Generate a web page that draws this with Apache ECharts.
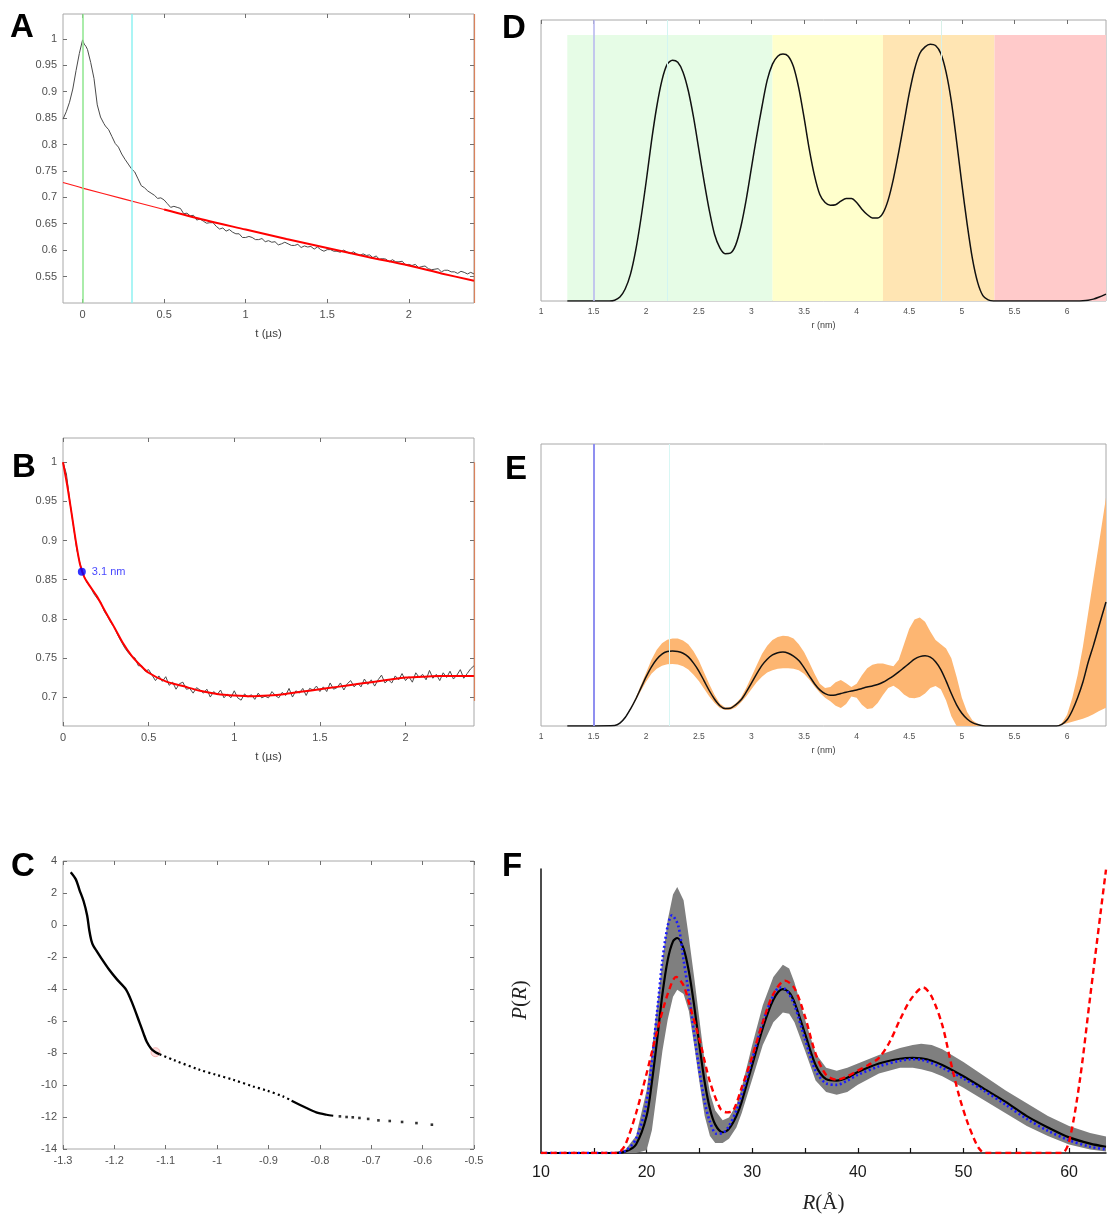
<!DOCTYPE html>
<html><head><meta charset="utf-8">
<script src="https://cdn.jsdelivr.net/npm/echarts@6/dist/echarts.min.js"></script>
<style>html,body{margin:0;padding:0;background:#fff}#c{width:1111px;height:1220px}</style>
</head><body><div id="c"></div>
<script>
// ---------- DATA ----------
// Panel A: raw trace (t in µs, normalised signal) and background fit
const aSignal = [
[-0.12,0.848],[-0.1,0.862],[-0.08,0.88],[-0.06,0.905],[-0.04,0.94],[-0.02,0.972],[0,0.998],[0.01,0.99],[0.02,0.986],[0.03,0.98],
[0.05,0.955],[0.07,0.925],[0.09,0.875],[0.11,0.852],[0.13,0.84],[0.14,0.835],[0.15,0.838],[0.16,0.828],[0.18,0.815],[0.2,0.802],
[0.22,0.795],[0.24,0.782],[0.26,0.772],[0.28,0.763],[0.3,0.754],[0.32,0.748],[0.34,0.735],[0.36,0.722],[0.38,0.718],[0.4,0.712],
[0.42,0.708],[0.44,0.704],[0.46,0.698],[0.48,0.699],
[0.50,0.695],[0.52,0.688],[0.54,0.681],[0.56,0.683],[0.58,0.681],[0.60,0.679],[0.62,0.669],[0.64,0.670],[0.66,0.665],[0.68,0.666],
[0.70,0.657],[0.72,0.659],[0.74,0.655],[0.76,0.651],[0.78,0.652],[0.80,0.652],[0.82,0.645],[0.84,0.640],[0.86,0.642],[0.88,0.636],
[0.90,0.639],[0.92,0.634],[0.94,0.631],[0.96,0.631],[0.98,0.624],[1.00,0.624],[1.02,0.626],[1.04,0.624],[1.06,0.620],[1.08,0.620],
[1.10,0.622],[1.12,0.616],[1.14,0.618],[1.16,0.615],[1.18,0.616],[1.20,0.610],[1.22,0.612],[1.24,0.615],[1.26,0.612],[1.28,0.609],
[1.30,0.609],[1.32,0.611],[1.34,0.605],[1.36,0.608],[1.38,0.606],[1.40,0.607],[1.42,0.602],[1.44,0.606],[1.46,0.601],[1.48,0.598],
[1.50,0.601],[1.52,0.601],[1.54,0.598],[1.56,0.598],[1.58,0.596],[1.60,0.600],[1.62,0.597],[1.64,0.593],[1.66,0.597],[1.68,0.593],
[1.70,0.590],[1.72,0.593],[1.74,0.590],[1.76,0.591],[1.78,0.586],[1.80,0.589],[1.82,0.583],[1.84,0.584],[1.86,0.583],[1.88,0.578],
[1.90,0.582],[1.92,0.578],[1.94,0.578],[1.96,0.579],[1.98,0.572],[2.00,0.573],[2.02,0.571],[2.04,0.573],[2.06,0.567],[2.08,0.569],
[2.10,0.570],[2.12,0.565],[2.14,0.563],[2.16,0.564],[2.18,0.565],[2.20,0.559],[2.22,0.562],[2.24,0.562],[2.26,0.559],[2.28,0.559],
[2.30,0.556],[2.32,0.560],[2.34,0.558],[2.36,0.555],[2.38,0.558],[2.40,0.555]];
const aFitOutside = [[-0.12,0.728],[0,0.7175],[0.25,0.697],[0.5,0.677]];
const aFitInside = [[0.5,0.677],[0.75,0.657],[1,0.639],[1.25,0.621],[1.5,0.604],[1.75,0.587],[2,0.571],[2.2,0.556],[2.4,0.542]];
const aMarkerTimes = [0, 0.3, 2.4];
const aXTicks = [0, 0.5, 1, 1.5, 2];
const aYTicks = [0.55, 0.6, 0.65, 0.7, 0.75, 0.8, 0.85, 0.9, 0.95, 1];

// Panel B: background-corrected trace and fit
const bSignal = [
[0,1.0],[0.02,0.985],[0.04,0.95],[0.06,0.92],[0.08,0.889],[0.1,0.87],[0.12,0.856],[0.14,0.846],[0.16,0.841],[0.18,0.832],
[0.2,0.826],[0.22,0.821],[0.24,0.810],[0.26,0.803],[0.28,0.795],[0.3,0.789],[0.32,0.779],[0.34,0.771],[0.36,0.763],[0.38,0.757],
[0.40,0.752],[0.42,0.750],[0.44,0.740],[0.46,0.740],[0.48,0.733],[0.50,0.735],[0.52,0.728],[0.54,0.721],[0.56,0.727],[0.58,0.720],
[0.60,0.726],[0.62,0.715],[0.64,0.719],[0.66,0.710],[0.68,0.717],[0.70,0.719],[0.72,0.710],[0.74,0.711],[0.76,0.705],[0.78,0.712],
[0.80,0.709],[0.82,0.705],[0.84,0.710],[0.86,0.700],[0.88,0.707],[0.90,0.703],[0.92,0.709],[0.94,0.699],[0.96,0.704],[0.98,0.699],
[1.00,0.708],[1.02,0.699],[1.04,0.696],[1.06,0.704],[1.08,0.700],[1.10,0.703],[1.12,0.697],[1.14,0.705],[1.16,0.699],[1.18,0.701],
[1.20,0.699],[1.22,0.707],[1.24,0.702],[1.26,0.699],[1.28,0.706],[1.30,0.702],[1.32,0.711],[1.34,0.700],[1.36,0.708],[1.38,0.705],
[1.40,0.711],[1.42,0.702],[1.44,0.711],[1.46,0.709],[1.48,0.714],[1.50,0.707],[1.52,0.713],[1.54,0.707],[1.56,0.718],[1.58,0.710],
[1.60,0.712],[1.62,0.718],[1.64,0.709],[1.66,0.717],[1.68,0.721],[1.70,0.713],[1.72,0.718],[1.74,0.713],[1.76,0.723],[1.78,0.716],
[1.80,0.722],[1.82,0.714],[1.84,0.722],[1.86,0.728],[1.88,0.718],[1.90,0.722],[1.92,0.718],[1.94,0.727],[1.96,0.722],[1.98,0.730],
[2.00,0.721],[2.02,0.726],[2.04,0.719],[2.06,0.731],[2.08,0.725],[2.10,0.729],[2.12,0.722],[2.14,0.734],[2.16,0.724],[2.18,0.729],
[2.20,0.721],[2.22,0.731],[2.24,0.725],[2.26,0.733],[2.28,0.723],[2.30,0.728],[2.32,0.735],[2.34,0.724],[2.36,0.730],[2.38,0.736],[2.40,0.740]];
const bFit = [[0,1.0],[0.025,0.97],[0.05,0.935],[0.075,0.899],[0.1,0.869],[0.125,0.853],[0.15,0.844],[0.2,0.828],[0.25,0.808],[0.3,0.789],
[0.35,0.769],[0.4,0.753],[0.45,0.741],[0.5,0.731],[0.6,0.72],[0.7,0.714],[0.8,0.708],[0.9,0.704],[1.0,0.702],[1.1,0.701],
[1.2,0.702],[1.3,0.704],[1.4,0.707],[1.5,0.710],[1.6,0.713],[1.7,0.716],[1.8,0.719],[1.9,0.722],[2.0,0.725],[2.1,0.726],
[2.2,0.727],[2.3,0.727],[2.4,0.727]];
const bMarker = [0.11, 0.86];
const bMarkerLabel = '3.1 nm';
const bEdge = [[2.4, 0.695], [2.4, 1.0]];
const bXTicks = [0, 0.5, 1, 1.5, 2];
const bYTicks = [0.7, 0.75, 0.8, 0.85, 0.9, 0.95, 1];

// Panel C
const cCurve = [[-1.285,3.3],[-1.275,2.85],[-1.268,2.2],[-1.26,1.5],[-1.253,0.6],[-1.249,-0.3],[-1.245,-0.95],[-1.241,-1.3],
[-1.235,-1.6],[-1.225,-2.1],[-1.21,-2.8],[-1.195,-3.4],[-1.177,-4.05],[-1.165,-4.9],[-1.151,-6.1],[-1.143,-6.8],[-1.137,-7.3],
[-1.128,-7.75],[-1.12,-7.95],[-1.112,-8.08]];
const cDotted = [[-1.112,-8.08],[-1.086,-8.42],[-1.034,-9.05],[-1.002,-9.36],[-0.969,-9.67],[-0.93,-10.09],[-0.904,-10.34],
[-0.872,-10.71],[-0.855,-10.98]];
const cDense = [[-0.855,-10.98],[-0.826,-11.44],[-0.807,-11.71],[-0.787,-11.86],[-0.774,-11.92]];
const cTail = [[-0.761,-11.96],[-0.748,-12.0],[-0.736,-12.02],[-0.723,-12.06],[-0.706,-12.12],[-0.686,-12.21],[-0.664,-12.25],
[-0.640,-12.31],[-0.612,-12.38],[-0.582,-12.48]];
const cSelected = [-1.12, -7.95];
const cXTicks = [-1.3, -1.2, -1.1, -1, -0.9, -0.8, -0.7, -0.6, -0.5];
const cYTicks = [-14, -12, -10, -8, -6, -4, -2, 0, 2, 4];

// Panel D: distance distribution with reliability bands
const dR = [1.25,1.5,1.65,1.7,1.75,1.8,1.85,1.9,1.95,2.0,2.05,2.1,2.15,2.2,2.25,2.3,2.35,2.4,2.45,2.5,2.55,2.6,2.65,2.7,2.75,
2.8,2.85,2.9,2.95,3.0,3.05,3.1,3.15,3.2,3.25,3.3,3.35,3.4,3.45,3.5,3.55,3.6,3.65,3.7,3.75,3.8,3.85,3.9,3.95,4.0,4.05,4.1,4.15,4.2,
4.25,4.3,4.35,4.4,4.45,4.5,4.55,4.6,4.65,4.7,4.75,4.8,4.85,4.9,4.95,5.0,5.05,5.1,5.15,5.2,5.25,5.3,6.1,6.15,6.2,6.25,6.3,6.37];
const dP = [0,0,0,0.003,0.015,0.045,0.10,0.19,0.31,0.45,0.60,0.73,0.83,0.89,0.905,0.897,0.86,0.79,0.69,0.57,0.45,0.34,0.25,0.20,0.178,
0.18,0.21,0.28,0.38,0.50,0.62,0.73,0.83,0.89,0.92,0.928,0.92,0.88,0.80,0.69,0.57,0.47,0.40,0.37,0.36,0.362,0.375,0.385,0.385,0.37,0.345,0.325,0.312,0.312,
0.33,0.38,0.46,0.56,0.67,0.78,0.87,0.93,0.955,0.965,0.96,0.93,0.86,0.75,0.60,0.44,0.29,0.16,0.07,0.02,0.004,0,0,0.001,0.003,0.007,0.014,0.026];
const dBandEdges = [1.25, 3.2, 4.25, 5.31, 6.37];
const dLines = [1.5, 2.2, 4.8];
const rTicks = [1,1.5,2,2.5,3,3.5,4,4.5,5,5.5,6];

// Panel E: distribution with uncertainty band
const eR = [1.25,1.7,1.75,1.8,1.85,1.9,1.95,2.0,2.05,2.1,2.15,2.2,2.25,2.3,2.35,2.4,2.45,2.5,2.55,2.6,2.65,2.7,2.75,2.8,2.85,2.9,2.95,3.0,3.05,
3.1,3.15,3.2,3.25,3.3,3.35,3.4,3.45,3.5,3.55,3.6,3.65,3.7,3.75,3.8,3.85,3.9,3.95,4.0,4.05,4.1,4.15,4.2,4.25,4.3,4.35,4.4,4.45,4.5,4.55,4.6,4.65,4.7,4.75,4.8,4.85,4.9,4.95,
5.0,5.05,5.1,5.15,5.2,5.25,5.9,5.95,6.0,6.05,6.1,6.15,6.2,6.25,6.3,6.37];
const eMean = [0,0.002,0.01,0.03,0.06,0.095,0.135,0.175,0.21,0.237,0.255,0.264,0.266,0.264,0.258,0.245,0.223,0.195,0.16,0.125,0.095,0.072,0.062,0.063,0.075,0.092,0.12,0.152,0.185,
0.215,0.237,0.252,0.26,0.262,0.258,0.248,0.232,0.207,0.178,0.15,0.128,0.115,0.109,0.11,0.115,0.12,0.124,0.128,0.133,0.138,0.142,0.147,0.155,0.166,0.178,0.192,0.207,0.222,0.237,0.246,0.249,0.244,0.228,0.2,0.16,0.115,0.075,
0.045,0.025,0.012,0.005,0.001,0,0,0.006,0.022,0.055,0.10,0.155,0.225,0.285,0.35,0.44];
const eLow = [0,0.002,0.01,0.03,0.058,0.09,0.125,0.158,0.185,0.203,0.214,0.219,0.22,0.218,0.212,0.2,0.182,0.16,0.132,0.105,0.082,0.064,0.057,0.058,0.066,0.083,0.105,0.13,0.155,
0.175,0.19,0.198,0.203,0.205,0.205,0.203,0.198,0.185,0.165,0.14,0.118,0.1,0.088,0.072,0.064,0.078,0.105,0.1,0.075,0.06,0.063,0.082,0.11,0.135,0.143,0.13,0.112,0.1,0.098,0.103,0.115,0.135,0.142,0.13,0.09,0.035,0,
0,0,0,0,0,0,0,0.004,0.01,0.015,0.02,0.026,0.033,0.042,0.052,0.065];
const eUp = [0,0.002,0.01,0.03,0.062,0.10,0.145,0.19,0.235,0.27,0.293,0.306,0.31,0.31,0.303,0.29,0.265,0.232,0.19,0.148,0.11,0.08,0.066,0.067,0.08,0.10,0.135,0.175,0.215,
0.255,0.285,0.305,0.316,0.32,0.318,0.31,0.29,0.262,0.225,0.185,0.15,0.135,0.138,0.155,0.163,0.152,0.138,0.15,0.18,0.205,0.217,0.222,0.222,0.216,0.212,0.235,0.29,0.345,0.378,0.385,0.37,0.335,0.305,0.29,0.275,0.24,0.175,
0.1,0.05,0.02,0.008,0.002,0,0,0.01,0.04,0.10,0.18,0.28,0.40,0.52,0.64,0.81];
const eLines = [1.5, 2.22];

// Panel F: P(R) comparison
const fR = [10,17,18,19,20,20.5,21,21.5,22,22.5,22.9,23.5,24,24.5,25,25.5,26,26.5,27.2,27.8,28.5,29,30,31,32,32.9,33.5,34,35,36,37,38,39,40,
42,44,45.2,46,47,48,50,52,54,56,58,60,62,63.5];
const fMean = [0,0,0.005,0.03,0.13,0.25,0.40,0.56,0.68,0.745,0.757,0.72,0.64,0.52,0.38,0.25,0.155,0.10,0.073,0.085,0.13,0.18,0.31,0.44,0.54,0.577,0.565,0.53,0.42,0.31,0.26,0.255,0.265,0.285,
0.315,0.332,0.335,0.333,0.325,0.31,0.27,0.225,0.18,0.13,0.09,0.055,0.033,0.022];
const fUp = [0,0.003,0.012,0.06,0.22,0.36,0.52,0.68,0.82,0.91,0.937,0.89,0.76,0.62,0.47,0.32,0.21,0.15,0.115,0.125,0.17,0.23,0.38,0.52,0.62,0.663,0.65,0.60,0.47,0.35,0.30,0.29,0.30,0.315,
0.345,0.37,0.38,0.385,0.38,0.365,0.32,0.27,0.22,0.175,0.13,0.095,0.07,0.058];
const fLow = [0,0,0,0,0.01,0.08,0.22,0.36,0.47,0.55,0.575,0.56,0.50,0.38,0.25,0.13,0.06,0.035,0.035,0.05,0.09,0.14,0.26,0.38,0.46,0.495,0.49,0.46,0.36,0.255,0.215,0.205,0.215,0.24,
0.28,0.30,0.30,0.295,0.285,0.27,0.23,0.185,0.14,0.095,0.06,0.03,0.012,0.005];
const fBlueR = [10,17,18,19,20,21,21.5,22,22.4,23,23.5,24,24.5,25,25.5,26,26.6,27.2,27.8,28.5,29,30,31,32,32.6,33.2,34,35,36,37,38,39,40,42,44,45,46,48,50,52,54,56,58,60,62,63.5];
const fBlue = [0,0,0.008,0.05,0.18,0.50,0.68,0.80,0.837,0.80,0.68,0.56,0.42,0.29,0.18,0.11,0.068,0.07,0.095,0.15,0.205,0.33,0.46,0.555,0.583,0.575,0.52,0.40,0.29,0.245,0.24,0.255,0.275,0.305,0.325,0.33,0.328,0.30,0.262,0.218,0.17,0.12,0.078,0.045,0.022,0.013];
const fRedR = [10,17,17.5,18,19,20,21,22,22.8,23.5,24,25,26,27,27.6,28.2,29,30,31,32,33.1,34,35,36,37,38,39,40,41,42,43,44,45,46.2,47,48,48.8,49.6,50.3,51,51.5,52,59.3,60,61,62,63,63.5];
const fRed = [0,0,0.005,0.03,0.14,0.28,0.43,0.56,0.62,0.59,0.53,0.40,0.25,0.155,0.143,0.15,0.23,0.34,0.46,0.56,0.607,0.58,0.48,0.35,0.275,0.258,0.27,0.29,0.31,0.335,0.39,0.47,0.54,0.583,0.55,0.45,0.32,0.2,0.117,0.05,0.015,0,0,0.04,0.25,0.55,0.85,0.998];
const fXLabels = [10,20,30,40,50,60];
const fXTicks = [15,20,25,30,35,40,45,50,55,60];

// ---------- CHART ----------
const zip = (x, y) => x.map((v, i) => [v, y[i]]);
const FONT = '"Liberation Sans", Arial, sans-serif';
const frame = '#a8a8a8';

function gridBox(left, top, width, height, show) {
  return {left, top, width, height, show: show, borderColor: frame, borderWidth: 1, backgroundColor: 'transparent', containLabel: false};
}
function ax(gridIndex, position, min, max, ticks, labels, fs, extra) {
  const o = {
    type: 'value', gridIndex, position, min, max,
    axisLine: {show: false, onZero: false},
    axisTick: {show: !!ticks, inside: true, length: 4, lineStyle: {color: '#6f6f6f'}, customValues: ticks || []},
    axisLabel: {show: !!labels, customValues: labels || [], color: '#505050', fontSize: fs || 11, fontFamily: FONT, margin: 6},
    splitLine: {show: false}
  };
  return Object.assign(o, extra || {});
}
function band(xi, yi, xs, lo, hi, color) {
  return {
    type: 'custom', xAxisIndex: xi, yAxisIndex: yi, clip: true, silent: true, z: 1,
    data: [[xs[0], 0]],
    renderItem: function (params, api) {
      const pts = [];
      for (let i = 0; i < xs.length; i++) pts.push(api.coord([xs[i], hi[i]]));
      for (let i = xs.length - 1; i >= 0; i--) pts.push(api.coord([xs[i], lo[i]]));
      return {type: 'polygon', shape: {points: pts}, style: {fill: color}};
    }
  };
}
function vline(x, color, width) {
  return {xAxis: x, lineStyle: {color: color, width: width, type: 'solid'}};
}
const noMark = {symbol: 'none', silent: true, label: {show: false}, emphasis: {disabled: true}};
const SM = {smooth: 0.3};

const tUs = 't (\u00b5s)';
const option = {
  animation: false,
  backgroundColor: '#fff',
  grid: [
    gridBox(63, 14, 411, 289, true),
    gridBox(63, 438, 411, 288, true),
    gridBox(63, 861, 411, 288, true),
    gridBox(541, 20, 565, 281, true),
    gridBox(541, 444, 565, 282, true),
    gridBox(541, 869, 565, 284, false)
  ],
  xAxis: [
    ax(0, 'bottom', -0.12, 2.4, aXTicks, aXTicks, 11, {name: tUs, nameLocation: 'middle', nameGap: 25, nameTextStyle: {color: '#404040', fontSize: 11.5, fontFamily: FONT}}),
    ax(0, 'top', -0.12, 2.4, aXTicks, null),
    ax(1, 'bottom', 0, 2.4, bXTicks, bXTicks, 11, {name: tUs, nameLocation: 'middle', nameGap: 25, nameTextStyle: {color: '#404040', fontSize: 11.5, fontFamily: FONT}}),
    ax(1, 'top', 0, 2.4, bXTicks, null),
    ax(2, 'bottom', -1.3, -0.5, cXTicks, cXTicks, 11),
    ax(2, 'top', -1.3, -0.5, cXTicks, null),
    ax(3, 'bottom', 1, 6.37, null, rTicks, 8.5, {name: 'r (nm)', nameLocation: 'middle', nameGap: 20, nameTextStyle: {color: '#404040', fontSize: 9, fontFamily: FONT}}),
    ax(3, 'top', 1, 6.37, rTicks, null),
    ax(4, 'bottom', 1, 6.37, null, rTicks, 8.5, {name: 'r (nm)', nameLocation: 'middle', nameGap: 20, nameTextStyle: {color: '#404040', fontSize: 9, fontFamily: FONT}}),
    {
      type: 'value', gridIndex: 5, position: 'bottom', min: 10, max: 63.5,
      axisLine: {show: true, onZero: false, lineStyle: {color: '#111', width: 1.5}},
      axisTick: {show: true, inside: true, length: 5, lineStyle: {color: '#111', width: 1.2}, customValues: fXTicks},
      axisLabel: {show: true, customValues: fXLabels, color: '#1a1a1a', fontSize: 16, fontFamily: FONT, margin: 12},
      splitLine: {show: false},
      name: '{i|R}(\u00c5)', nameLocation: 'middle', nameGap: 40,
      nameTextStyle: {fontFamily: '"Liberation Serif", "Times New Roman", serif', fontSize: 21, color: '#222',
        rich: {i: {fontStyle: 'italic', fontFamily: '"Liberation Serif", serif', fontSize: 21, color: '#222'}}}
    }
  ],
  yAxis: [
    ax(0, 'left', 0.5, 1.047, aYTicks, aYTicks, 11),
    ax(0, 'right', 0.5, 1.047, aYTicks, null),
    ax(1, 'left', 0.663, 1.031, bYTicks, bYTicks, 11),
    ax(1, 'right', 0.663, 1.031, bYTicks, null),
    ax(2, 'left', -14, 4, cYTicks, cYTicks, 11),
    ax(2, 'right', -14, 4, cYTicks, null),
    ax(3, 'left', 0, 1.056, null, null),
    ax(4, 'left', 0, 1, null, null),
    {
      type: 'value', gridIndex: 5, position: 'left', min: 0, max: 1,
      axisLine: {show: true, onZero: false, lineStyle: {color: '#111', width: 1.5}},
      axisTick: {show: false}, axisLabel: {show: false}, splitLine: {show: false},
      name: '{i|P}({i|R})', nameLocation: 'middle', nameGap: 10, nameRotate: 90,
      nameTextStyle: {fontFamily: '"Liberation Serif", serif', fontSize: 21, color: '#222', padding: [0, 0, 0, 22],
        rich: {i: {fontStyle: 'italic', fontFamily: '"Liberation Serif", serif', fontSize: 21, color: '#222'}}}
    }
  ],
  graphic: [
    {type: 'text', style: {x: 10, y: 28, text: 'A', font: 'bold 33px ' + FONT, fill: '#000', verticalAlign: 'middle'}},
    {type: 'text', style: {x: 12, y: 468, text: 'B', font: 'bold 33px ' + FONT, fill: '#000', verticalAlign: 'middle'}},
    {type: 'text', style: {x: 11, y: 867, text: 'C', font: 'bold 33px ' + FONT, fill: '#000', verticalAlign: 'middle'}},
    {type: 'text', style: {x: 502, y: 29, text: 'D', font: 'bold 33px ' + FONT, fill: '#000', verticalAlign: 'middle'}},
    {type: 'text', style: {x: 505, y: 470, text: 'E', font: 'bold 33px ' + FONT, fill: '#000', verticalAlign: 'middle'}},
    {type: 'text', style: {x: 502, y: 867, text: 'F', font: 'bold 33px ' + FONT, fill: '#000', verticalAlign: 'middle'}}
  ],
  series: [
    // ---- A ----
    {type: 'line', xAxisIndex: 0, yAxisIndex: 0, data: aSignal, symbol: 'none', lineStyle: {color: '#4a4a4a', width: 1}, z: 3,
      markLine: Object.assign({}, noMark, {data: [vline(aMarkerTimes[0], '#8ee68e', 1.5), vline(aMarkerTimes[1], '#8ff2f2', 1.5), vline(aMarkerTimes[2], '#d9825c', 1.2)]})},
    Object.assign({type: 'line', xAxisIndex: 0, yAxisIndex: 0, data: aFitOutside, symbol: 'none', lineStyle: {color: '#ff1a1a', width: 1.2}, z: 4}, SM),
    Object.assign({type: 'line', xAxisIndex: 0, yAxisIndex: 0, data: aFitInside, symbol: 'none', lineStyle: {color: '#ff0000', width: 2}, z: 4}, SM),
    // ---- B ----
    {type: 'line', xAxisIndex: 2, yAxisIndex: 2, data: bSignal, symbol: 'none', lineStyle: {color: '#4a4a4a', width: 1}, z: 3,
      markLine: Object.assign({}, noMark, {data: [[{coord: bEdge[0], lineStyle: {color: '#d9825c', width: 1.2, type: 'solid'}}, {coord: bEdge[1]}]]})},
    Object.assign({type: 'line', xAxisIndex: 2, yAxisIndex: 2, data: bFit, symbol: 'none', lineStyle: {color: '#ff0000', width: 2}, z: 4}, SM),
    {type: 'scatter', xAxisIndex: 2, yAxisIndex: 2, data: [bMarker], symbol: 'circle', symbolSize: 8, itemStyle: {color: '#0000ff'}, z: 5,
      label: {show: true, position: 'right', distance: 6, formatter: bMarkerLabel, color: '#1515ff', fontSize: 11, fontFamily: FONT}},
    // ---- C ----
    Object.assign({type: 'line', xAxisIndex: 4, yAxisIndex: 4, data: cCurve, symbol: 'none', lineStyle: {color: '#000', width: 2.4}, z: 3}, SM),
    Object.assign({type: 'line', xAxisIndex: 4, yAxisIndex: 4, data: cDotted, symbol: 'none', lineStyle: {color: '#000', width: 2.2, type: [2, 3.2]}, z: 3}, SM),
    Object.assign({type: 'line', xAxisIndex: 4, yAxisIndex: 4, data: cDense, symbol: 'none', lineStyle: {color: '#000', width: 2.2}, z: 3}, SM),
    {type: 'scatter', xAxisIndex: 4, yAxisIndex: 4, data: cTail, symbol: 'rect', symbolSize: 2.6, itemStyle: {color: '#000'}, z: 3},
    {type: 'scatter', xAxisIndex: 4, yAxisIndex: 4, data: [cSelected], symbol: 'circle', symbolSize: 9, itemStyle: {color: 'rgba(255,150,150,0.35)', borderColor: 'rgba(240,120,120,0.6)', borderWidth: 1}, z: 2},
    // ---- D ----
    Object.assign({type: 'line', xAxisIndex: 6, yAxisIndex: 6, data: zip(dR, dP), symbol: 'none', lineStyle: {color: '#111', width: 1.5}, z: 4,
      markArea: {silent: true, data: [
        [{xAxis: dBandEdges[0], yAxis: 0, itemStyle: {color: '#e6fce6'}}, {xAxis: dBandEdges[1], yAxis: 1}],
        [{xAxis: dBandEdges[1], yAxis: 0, itemStyle: {color: '#ffffcc'}}, {xAxis: dBandEdges[2], yAxis: 1}],
        [{xAxis: dBandEdges[2], yAxis: 0, itemStyle: {color: '#ffe5b3'}}, {xAxis: dBandEdges[3], yAxis: 1}],
        [{xAxis: dBandEdges[3], yAxis: 0, itemStyle: {color: '#ffcaca'}}, {xAxis: dBandEdges[4], yAxis: 1}]
      ]},
      markLine: Object.assign({}, noMark, {data: [vline(dLines[0], '#b9b9ef', 1.6), vline(dLines[1], '#d3f5f2', 1), vline(dLines[2], '#d8f0e8', 1)]})}, SM),
    // ---- E ----
    band(8, 7, eR, eLow, eUp, '#fdb672'),
    Object.assign({type: 'line', xAxisIndex: 8, yAxisIndex: 7, data: zip(eR, eMean), symbol: 'none', lineStyle: {color: '#111', width: 1.5}, z: 4,
      markLine: Object.assign({}, noMark, {data: [vline(eLines[0], '#8f8ff0', 2), vline(eLines[1], '#d8f7f4', 1)]})}, SM),
    // ---- F ----
    band(9, 8, fR, fLow, fUp, '#7f7f7f'),
    Object.assign({type: 'line', xAxisIndex: 9, yAxisIndex: 8, data: zip(fR, fMean), symbol: 'none', lineStyle: {color: '#000', width: 2.2}, z: 4}, SM),
    Object.assign({type: 'line', xAxisIndex: 9, yAxisIndex: 8, data: zip(fBlueR, fBlue), symbol: 'none', lineStyle: {color: '#1a1aff', width: 2.6, type: [2, 2.6]}, z: 5}, SM),
    Object.assign({type: 'line', xAxisIndex: 9, yAxisIndex: 8, data: zip(fRedR, fRed), symbol: 'none', lineStyle: {color: '#ff0000', width: 2.4, type: [6, 4]}, z: 6}, SM)
  ]
};
const chart = echarts.init(document.getElementById('c'), null, {renderer: 'canvas'});
chart.setOption(option);
</script>
</body></html>
